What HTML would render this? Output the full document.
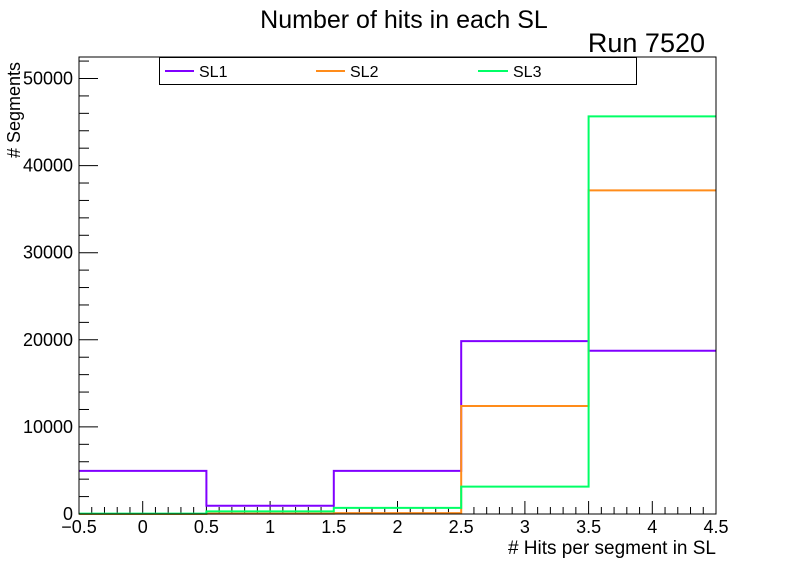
<!DOCTYPE html>
<html><head><meta charset="utf-8"><style>
html,body{margin:0;padding:0;background:#fff}
svg{display:block;font-family:"Liberation Sans",sans-serif}
</style></head><body>
<svg id="c" width="796" height="572">
<rect width="796" height="572" fill="#fff"/>
<text x="404" y="28" font-size="25" text-anchor="middle">Number of hits in each SL</text>
<text x="705" y="52" font-size="27" text-anchor="end">Run 7520</text>
<g id="axes"></g>
<g id="series"></g>
<rect x="79" y="57" width="637" height="457" fill="none" stroke="#000" stroke-width="1"/>
<g>
<rect x="159.5" y="57.5" width="477" height="27" fill="#fff" stroke="#000"/>
<g><line x1="165" y1="71" x2="194" y2="71" stroke="#8000ff" stroke-width="2"/><text x="199" y="77" font-size="16">SL1</text></g>
<g><line x1="316" y1="71" x2="345" y2="71" stroke="#ff8c1a" stroke-width="2"/><text x="350" y="77" font-size="16">SL2</text></g>
<g><line x1="478" y1="71" x2="508" y2="71" stroke="#00ff66" stroke-width="2"/><text x="513" y="77" font-size="16">SL3</text></g>
</g>
<text x="716" y="554" font-size="19" text-anchor="end"># Hits per segment in SL</text>
<text transform="translate(20,158) rotate(-90)" font-size="18"># Segments</text>
</svg>
<script>
const binCenters=[0,1,2,3,4];
const sl1=[4950,950,4950,19850,18750];
const sl2=[0,50,100,12400,37150];
const sl3=[50,300,700,3150,45650];
const xTicks=[-0.5,0,0.5,1,1.5,2,2.5,3,3.5,4,4.5];
const yTicks=[0,10000,20000,30000,40000,50000];
const X0=79,X1=716,Y0=514,YT=78.5;
const xs=v=>X0+(v+0.5)/5*(X1-X0);
const ys=v=>Y0-v/50000*(Y0-YT);
const NS="http://www.w3.org/2000/svg";
const ax=document.getElementById('axes'),se=document.getElementById('series');
function mk(t,a,p){const e=document.createElementNS(NS,t);for(const k in a)e.setAttribute(k,a[k]);p.appendChild(e);return e;}
for(let i=0;i<=50;i++){const v=-0.5+i*0.1;const x=xs(v);const maj=i%5==0;
 const l=mk('line',{x1:x,x2:x,y1:Y0,y2:Y0-(maj?13:7),stroke:'#000'},ax);
 
 }
xTicks.forEach(v=>{const t=mk('text',{x:xs(v),y:533,'font-size':18,'text-anchor':'middle'},ax);t.textContent=(v<0?'\u2212'+Math.abs(v):String(v));
 
 });
for(let v=0;v<=52000;v+=2000){const y=ys(v);if(y<57)break;const maj=v%10000==0;
 const l=mk('line',{x1:X0,x2:X0+(maj?19:10),y1:y,y2:y,stroke:'#000'},ax);
 
 }
yTicks.forEach(v=>{const t=mk('text',{x:73,y:ys(v)+6,'font-size':18,'text-anchor':'end'},ax);t.textContent=v;
 
 });
function step(vals,col,name){let d='';binCenters.forEach((c,i)=>{const xa=xs(c-0.5),xb=xs(c+0.5),y=ys(vals[i]);d+=(i==0?'M'+xa+','+y:'L'+xa+','+y)+'L'+xb+','+y;});
 const p=mk('path',{d:d,fill:'none',stroke:col,'stroke-width':2},se);
 
 }
step(sl1,'#8000ff','series-sl1');
step(sl2,'#ff8c1a','series-sl2');
step(sl3,'#00ff66','series-sl3');
</script>
</body></html>
